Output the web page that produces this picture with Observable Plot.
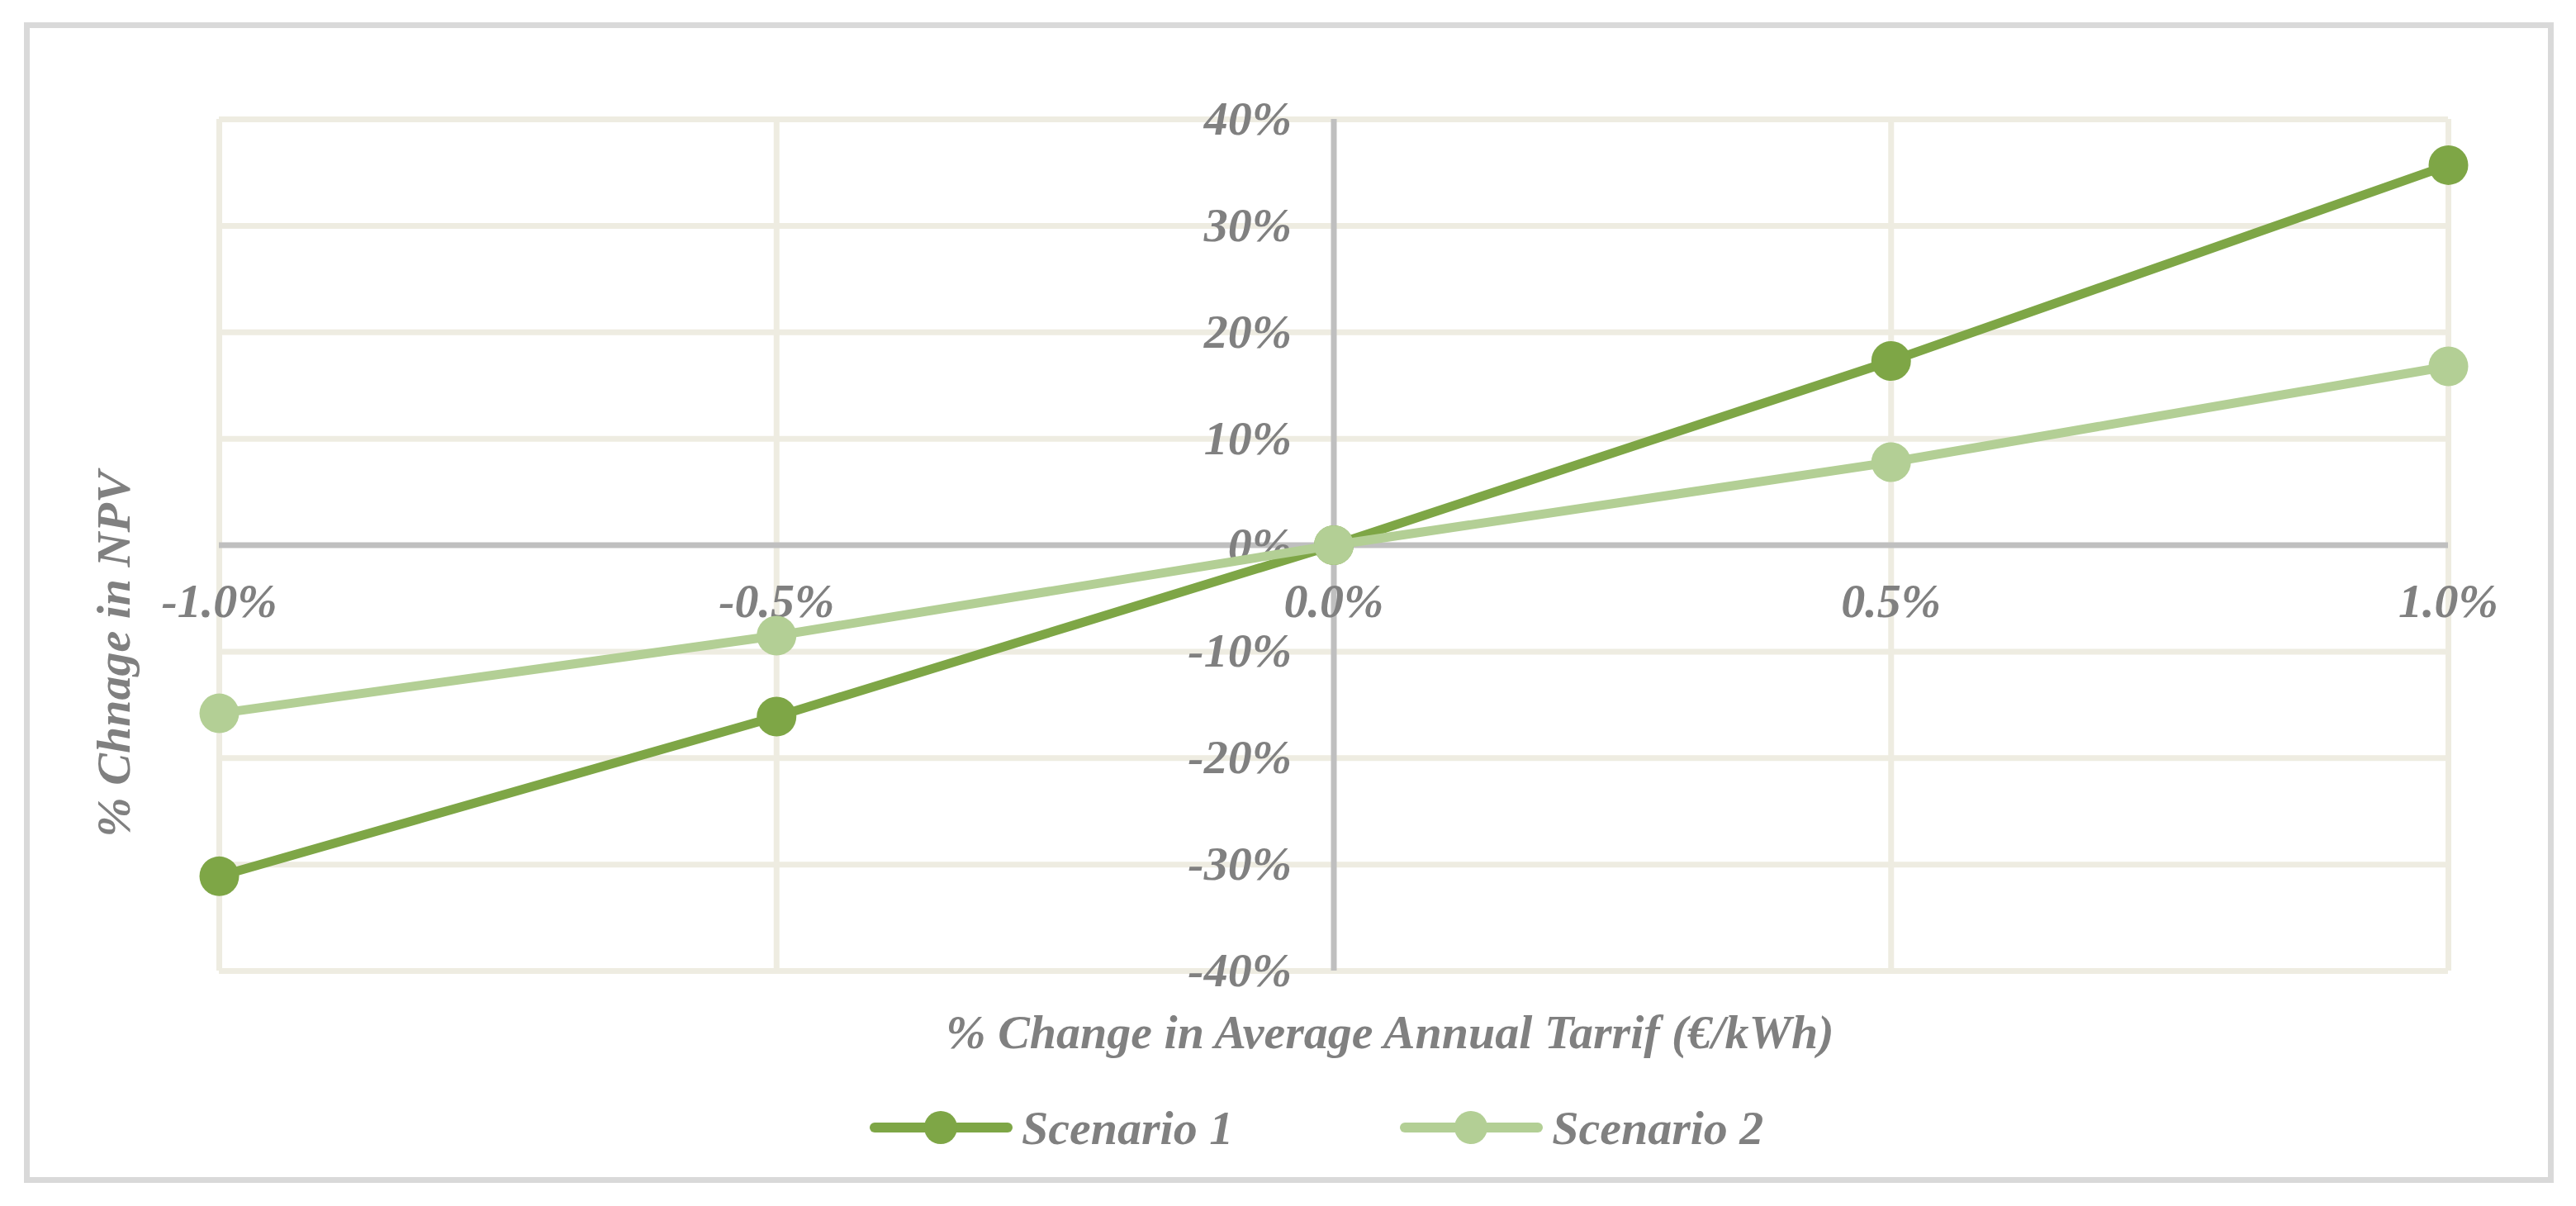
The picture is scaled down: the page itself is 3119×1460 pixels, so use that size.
<!DOCTYPE html>
<html><head><meta charset="utf-8">
<script src="https://cdn.jsdelivr.net/npm/d3@7"></script>
<script src="https://cdn.jsdelivr.net/npm/@observablehq/plot@0.6"></script>
<style>
body{margin:0;background:#fff;}
#wrap{position:relative;width:3119px;height:1460px;overflow:hidden;background:#fff;font-family:"Liberation Serif","Times New Roman",serif;font-style:italic;font-weight:bold;color:#808080;}
#chart{position:absolute;left:0;top:0;}
#frame{position:absolute;left:29px;top:27px;width:3063px;height:1405px;box-sizing:border-box;border:7px solid #d9d9d9;pointer-events:none;}
#legend{position:absolute;top:1325px;left:1053px;height:80px;display:flex;align-items:center;font-size:58px;white-space:nowrap;}
#legend .item{display:flex;align-items:center;}
#legend svg{display:block;}
</style></head><body>
<div id="wrap"><div id="chart"></div><div id="legend"></div><div id="frame"></div></div>
<script>
// ---- data ----
const tariffChange = [-1.0, -0.5, 0.0, 0.5, 1.0];
const scenario1 = [-31.1, -16.1, 0, 17.3, 35.7];
const scenario2 = [-15.8, -8.5, 0, 7.8, 16.8];
const seriesNames = ["Scenario 1", "Scenario 2"];
const seriesColors = ["#7ea646", "#b3cf95"];
const yTicks = [-40, -30, -20, -10, 0, 10, 20, 30, 40];
const xTicks = [-1.0, -0.5, 0.0, 0.5, 1.0];
const xTitle = "% Change in Average Annual Tarrif (€/kWh)";
const yTitle = "% Chnage in NPV";

const s1 = tariffChange.map((t, i) => ({x: t, y: scenario1[i], s: seriesNames[0]}));
const s2 = tariffChange.map((t, i) => ({x: t, y: scenario2[i], s: seriesNames[1]}));

const txt = {fontFamily: "Liberation Serif, Times New Roman, serif", fontStyle: "italic", fontWeight: "bold", fontSize: 58, fill: "#808080"};

const chart = Plot.plot({
  width: 3119,
  height: 1300,
  marginLeft: 265,
  marginRight: 155,
  marginTop: 144,
  marginBottom: 125,
  x: {domain: [-1, 1], axis: null},
  y: {domain: [-40, 40], axis: null},
  color: {domain: seriesNames, range: seriesColors},
  style: {background: "transparent", overflow: "visible"},
  marks: [
    Plot.ruleY(yTicks.filter(d => d !== 0), {y: d => d, stroke: "#eeece1", strokeWidth: 7}),
    Plot.ruleX(xTicks.filter(d => d !== 0), {x: d => d, stroke: "#eeece1", strokeWidth: 7}),
    Plot.ruleX([0], {x: d => d, stroke: "#bfbfbf", strokeWidth: 7}),
    Plot.ruleY([0], {y: d => d, stroke: "#bfbfbf", strokeWidth: 7}),
    Plot.text(yTicks, {x: () => 0, y: d => d, text: d => d + "%", textAnchor: "end", dx: -51, ...txt}),
    Plot.text(xTicks, {x: d => d, y: () => 0, text: d => d.toFixed(1) + "%", dy: 68, ...txt}),
    Plot.text([xTitle], {frameAnchor: "bottom", text: d => d, textAnchor: "middle", lineAnchor: "middle", dx: 68, dy: 75, ...txt}),
    Plot.text([yTitle], {frameAnchor: "left", text: d => d, textAnchor: "middle", lineAnchor: "middle", rotate: -90, dx: -127, dy: 132, ...txt}),
    Plot.line(s1, {x: "x", y: "y", stroke: "s", strokeWidth: 11}),
    Plot.dot(s1, {x: "x", y: "y", fill: "s", r: 24}),
    Plot.line(s2, {x: "x", y: "y", stroke: "s", strokeWidth: 11}),
    Plot.dot(s2, {x: "x", y: "y", fill: "s", r: 24})
  ]
});
document.getElementById("chart").appendChild(chart);

// ---- legend ----
const legend = document.getElementById("legend");
seriesNames.forEach((name, i) => {
  const item = document.createElement("div");
  item.className = "item";
  if (i > 0) item.style.marginLeft = "202px";
  item.innerHTML = `<svg width="173" height="44"><line x1="6" x2="167" y1="22" y2="22" stroke="${seriesColors[i]}" stroke-width="12" stroke-linecap="round"/><circle cx="86" cy="22" r="20" fill="${seriesColors[i]}"/></svg><span style="margin-left:11px">${name}</span>`;
  legend.appendChild(item);
});
</script>
</body></html>
